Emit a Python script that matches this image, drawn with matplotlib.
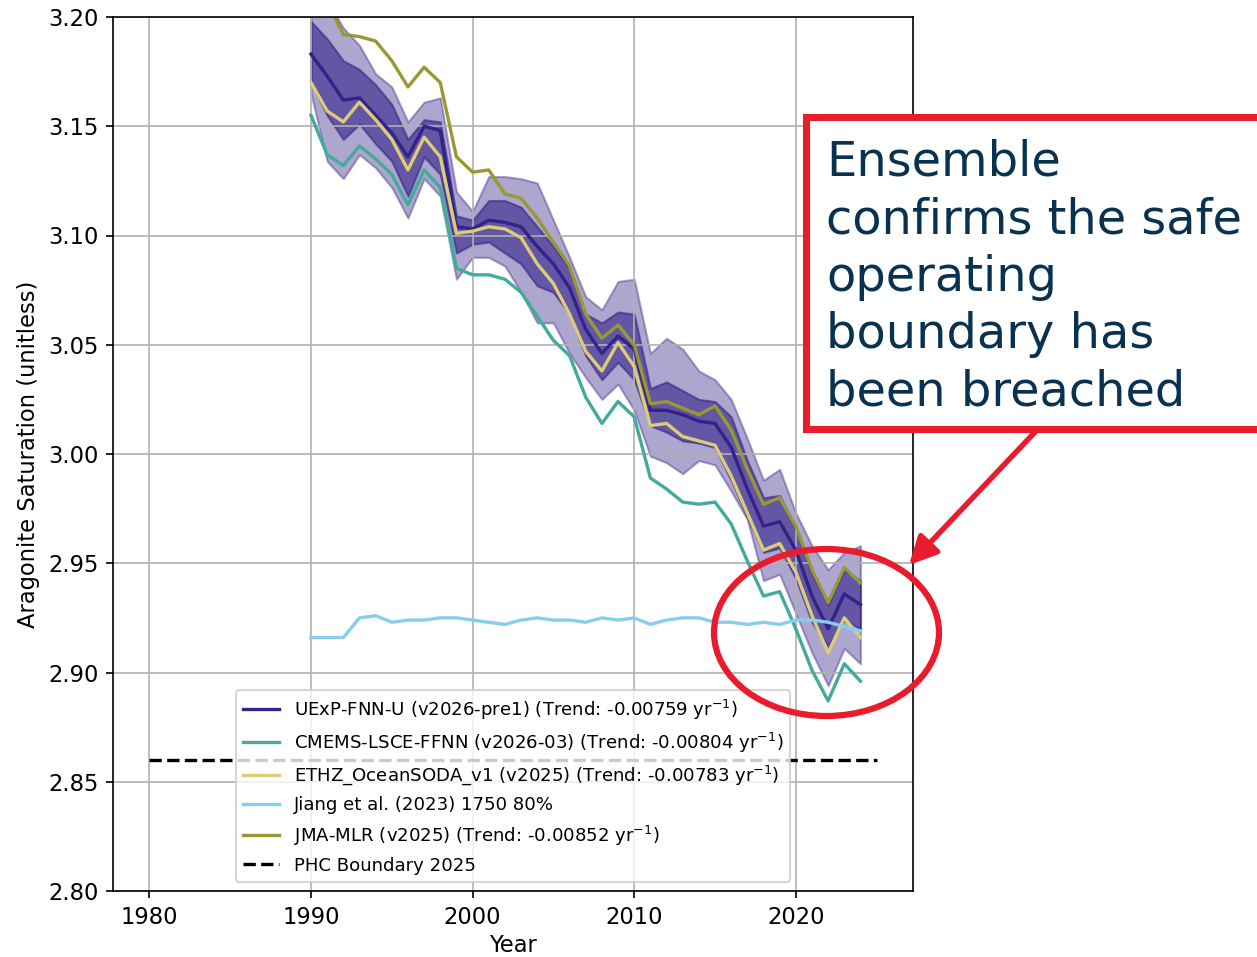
"""
Aragonite saturation ensemble vs. the planetary boundary, with callout.
"""
import numpy as np
import matplotlib
matplotlib.use("Agg")
import matplotlib.pyplot as plt
from matplotlib.patches import Rectangle, Ellipse, FancyArrowPatch

W, H, DPI = 1257, 957, 150

years = np.arange(1990, 2025)

# UExP-FNN-U ensemble mean + spread (inner / outer envelopes)
uexp = [3.183, 3.173, 3.162, 3.163, 3.155, 3.147, 3.136, 3.150, 3.148, 3.104,
        3.103, 3.107, 3.106, 3.104, 3.095, 3.087, 3.076, 3.057, 3.046, 3.054,
        3.048, 3.020, 3.020, 3.018, 3.015, 3.014, 3.003, 2.984, 2.967, 2.969,
        2.956, 2.935, 2.920, 2.936, 2.931]
outer_hi = [3.215, 3.208, 3.195, 3.187, 3.174, 3.168, 3.152, 3.161, 3.163, 3.120,
            3.111, 3.127, 3.127, 3.126, 3.124, 3.107, 3.090, 3.072, 3.066, 3.079,
            3.080, 3.046, 3.053, 3.048, 3.038, 3.034, 3.025, 3.007, 2.988, 2.993,
            2.973, 2.958, 2.947, 2.955, 2.958]
outer_lo = [3.165, 3.134, 3.126, 3.137, 3.131, 3.122, 3.108, 3.126, 3.118, 3.080,
            3.090, 3.090, 3.086, 3.074, 3.060, 3.060, 3.046, 3.035, 3.025, 3.032,
            3.020, 2.999, 2.996, 2.991, 2.997, 2.995, 2.983, 2.970, 2.942, 2.945,
            2.927, 2.909, 2.894, 2.911, 2.904]
inner_hi = [3.198, 3.190, 3.180, 3.176, 3.169, 3.160, 3.144, 3.153, 3.152, 3.109,
            3.107, 3.116, 3.116, 3.113, 3.104, 3.095, 3.085, 3.064, 3.060, 3.065,
            3.064, 3.030, 3.033, 3.029, 3.025, 3.024, 3.017, 2.997, 2.980, 2.981,
            2.966, 2.945, 2.931, 2.947, 2.942]
inner_lo = [3.170, 3.155, 3.144, 3.151, 3.142, 3.134, 3.118, 3.136, 3.128, 3.092,
            3.096, 3.097, 3.092, 3.087, 3.077, 3.074, 3.064, 3.045, 3.034, 3.042,
            3.034, 3.013, 3.010, 3.006, 3.005, 3.003, 2.988, 2.971, 2.955, 2.957,
            2.943, 2.923, 2.912, 2.924, 2.920]

cmems = [3.155, 3.137, 3.132, 3.141, 3.135, 3.128, 3.114, 3.130, 3.122, 3.085,
         3.082, 3.082, 3.080, 3.074, 3.063, 3.052, 3.045, 3.026, 3.014, 3.024,
         3.017, 2.989, 2.984, 2.978, 2.977, 2.978, 2.968, 2.951, 2.935, 2.937,
         2.920, 2.901, 2.887, 2.904, 2.896]
ethz = [3.170, 3.157, 3.152, 3.161, 3.153, 3.144, 3.130, 3.145, 3.136, 3.101,
        3.102, 3.104, 3.103, 3.099, 3.087, 3.078, 3.064, 3.047, 3.038, 3.051,
        3.040, 3.013, 3.014, 3.008, 3.006, 3.004, 2.990, 2.973, 2.956, 2.959,
        2.946, 2.926, 2.909, 2.925, 2.916]
jiang = [2.916, 2.916, 2.916, 2.925, 2.926, 2.923, 2.924, 2.924, 2.925, 2.925,
         2.924, 2.923, 2.922, 2.924, 2.925, 2.924, 2.924, 2.923, 2.925, 2.924,
         2.925, 2.922, 2.924, 2.925, 2.925, 2.923, 2.923, 2.922, 2.923, 2.922,
         2.924, 2.924, 2.923, 2.921, 2.919]
jma = [3.215, 3.207, 3.192, 3.191, 3.189, 3.180, 3.168, 3.177, 3.170, 3.136,
       3.129, 3.130, 3.119, 3.117, 3.108, 3.097, 3.086, 3.064, 3.053, 3.059,
       3.050, 3.023, 3.024, 3.021, 3.018, 3.022, 3.011, 2.993, 2.977, 2.980,
       2.967, 2.947, 2.932, 2.948, 2.941]

phc_years = [1980, 2025]
phc_level = 2.86

labels = [
    r"UExP-FNN-U (v2026-pre1) (Trend: -0.00759 yr$^{-1}$)",
    r"CMEMS-LSCE-FFNN (v2026-03) (Trend: -0.00804 yr$^{-1}$)",
    r"ETHZ_OceanSODA_v1 (v2025) (Trend: -0.00783 yr$^{-1}$)",
    "Jiang et al. (2023) 1750 80%",
    r"JMA-MLR (v2025) (Trend: -0.00852 yr$^{-1}$)",
    "PHC Boundary 2025",
]
colors = ["#332288", "#44AA99", "#DDCC77", "#88CCEE", "#999933"]

callout = "Ensemble\nconfirms the safe\noperating\nboundary has\nbeen breached"
RED = "#e91c2e"


def px(x, y):
    """pixel (from top-left) -> figure fraction"""
    return x / W, 1 - y / H


plt.rcParams.update({"font.size": 10.85, "lines.linewidth": 1.6})

fig = plt.figure(figsize=(W / DPI, H / DPI), dpi=DPI)
ax = fig.add_axes([113 / W, 1 - 891 / H, 800 / W, 874 / H])

ax.fill_between(years, outer_lo, outer_hi, color=colors[0], alpha=0.4)
ax.fill_between(years, inner_lo, inner_hi, color=colors[0], alpha=0.6)
ax.plot(years, uexp, color=colors[0], label=labels[0])
ax.plot(years, cmems, color=colors[1], label=labels[1])
ax.plot(years, ethz, color=colors[2], label=labels[2])
ax.plot(years, jiang, color=colors[3], label=labels[3])
ax.plot(years, jma, color=colors[4], label=labels[4])
ax.plot(phc_years, [phc_level] * 2, "k--", label=labels[5])

ax.set_ylim(2.80, 3.20)
ax.set_xlabel("Year", labelpad=2.5)
ax.set_ylabel("Aragonite Saturation (unitless)")
ax.grid(True)
ax.legend(loc="lower center", fontsize=8.7)

# --- callout overlay -----------------------------------------------------
x0, y0 = px(806, 429)
fig.add_artist(Rectangle((x0, y0), 0.5, (429 - 117) / H, transform=fig.transFigure,
                         facecolor="white", edgecolor=RED, lw=3.4, zorder=10))
tx, ty = px(826, 139)
fig.text(tx, ty, callout, fontsize=23, color="#08324f", va="top", ha="left",
         linespacing=1.28, zorder=11)

fig.add_artist(FancyArrowPatch(px(1036, 431), px(909, 565), transform=fig.transFigure,
                               arrowstyle="-|>", mutation_scale=28, lw=2.6,
                               color=RED, shrinkA=0, shrinkB=0, zorder=10))

cx, cy = px(826.5, 632.5)
fig.add_artist(Ellipse((cx, cy), 225 / W, 167 / H, transform=fig.transFigure,
                       facecolor="none", edgecolor=RED, lw=3.0, zorder=10))

fig.savefig("out.png", dpi=DPI)
